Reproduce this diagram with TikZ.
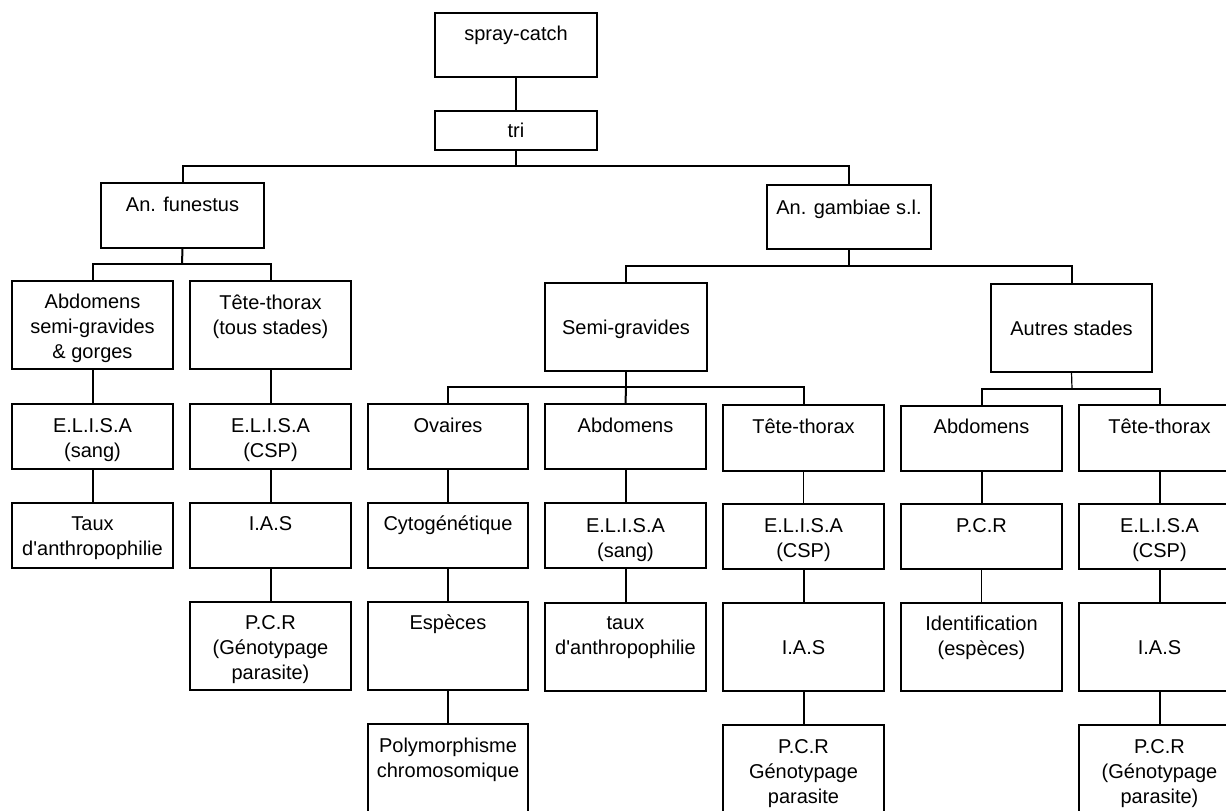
\documentclass[tikz,border=0pt]{standalone}
\usepackage{fontspec}
\setmainfont{Liberation Sans}
\newfontfamily\boxfont{Liberation Sans}
\newcommand\mybox[7]{%
  \node[boxst, minimum width={(#4-#2)*1pt}, minimum height={(#5-#3)*1pt}] (#1) at ({(#2+#4)/2},{(#3+#5)/2}) {};
  \node[txt] (#1t) at ({(#2+#4)/2},#6) {#7};}
\begin{document}
\begin{tikzpicture}[x=1pt,y=-1pt,
  boxst/.style={draw, line width=1.4pt, inner sep=0pt, outer sep=0pt, fill=white},
  txt/.style={inner sep=0pt, align=center, font=\boxfont\fontsize{20}{25}\selectfont, text height=14pt, text depth=0pt},
  conn/.style={line width=2pt},
  thinconn/.style={line width=1.2pt}]
\useasboundingbox (0,0) rectangle (1226,811);
\clip (0,0) rectangle (1226,811);
\fill[white] (0,0) rectangle (1226,811);
% level 0-1 (text y = centre of the last line)
\mybox{spray}{435}{13}{597}{77}{33}{spray-catch}
\mybox{tri}{435}{111}{597}{150}{130}{tri}
\mybox{fun}{101}{183}{264}{248}{204}{An. funestus}
\mybox{gam}{767}{185}{931}{249}{207}{An. gambiae s.l.}
% row A
\mybox{abdF}{12}{281}{173}{369}{351}{Abdomens\\semi-gravides\\\& gorges}
\mybox{ttF}{190}{281}{351}{369}{327}{Tête-thorax\\(tous stades)}
\mybox{semi}{545}{283}{707}{371}{327}{Semi-gravides}
\mybox{autres}{991}{284}{1152}{372}{328}{Autres stades}
% row B
\mybox{elisaFa}{12}{404}{173}{469}{450}{E.L.I.S.A\\(sang)}
\mybox{elisaFb}{190}{404}{351}{469}{450}{E.L.I.S.A\\(CSP)}
\mybox{ova}{368}{404}{528}{469}{425}{Ovaires}
\mybox{abdS}{545}{404}{706}{469}{425}{Abdomens}
\mybox{ttS}{723}{405}{884}{471}{426}{Tête-thorax}
\mybox{abdA}{901}{406}{1062}{471}{426}{Abdomens}
\mybox{ttA}{1079}{405}{1240}{471}{426}{Tête-thorax}
% row C
\mybox{taux}{12}{503}{173}{568}{548}{Taux\\d'anthropophilie}
\mybox{iasF}{190}{503}{351}{568}{523}{I.A.S}
\mybox{cyto}{368}{503}{528}{568}{523}{Cytogénétique}
\mybox{elisaS}{545}{503}{706}{568}{550}{E.L.I.S.A\\(sang)}
\mybox{elisaT}{723}{504}{884}{569}{550}{E.L.I.S.A\\(CSP)}
\mybox{pcrA}{901}{504}{1062}{569}{525}{P.C.R}
\mybox{elisaA}{1079}{504}{1240}{569}{550}{E.L.I.S.A\\(CSP)}
% row D
\mybox{pcrF}{190}{602}{351}{690}{672}{P.C.R\\(Génotypage\\parasite)}
\mybox{esp}{368}{602}{528}{690}{622}{Espèces}
\mybox{tauxS}{545}{603}{706}{691}{647}{taux\\d'anthropophilie}
\mybox{iasS}{723}{603}{884}{691}{647}{I.A.S}
\mybox{ident}{901}{603}{1062}{691}{648}{Identification\\(espèces)}
\mybox{iasA}{1079}{603}{1240}{691}{647}{I.A.S}
% row E
\mybox{poly}{368}{724}{528}{840}{770}{Polymorphisme\\chromosomique}
\mybox{pcrS}{723}{725}{884}{840}{796}{P.C.R\\Génotypage\\parasite}
\mybox{pcrA2}{1079}{725}{1240}{840}{796}{P.C.R\\(Génotypage\\parasite)}
% junctions
\coordinate (j0) at (516,166);
\coordinate (j1) at (182,264);
\coordinate (j2) at (849,266);
\coordinate (j3) at (626,387);
\coordinate (j4) at (1072,389);
% connectors
\draw[conn] (spray.south) -- (tri.north);
\draw[conn] (tri.south) -- (j0);
\draw[conn] (fun.north) |- (j0) -| (gam.north);
\draw[conn] (fun.south) -- (j1);
\draw[conn] (abdF.north) |- (j1) -| (ttF.north);
\draw[conn] (gam.south) -- (j2);
\draw[conn] (semi.north) |- (j2) -| (autres.north);
\draw[conn] (semi.south) -- (j3);
\draw[conn] (ova.north) |- (j3) -| (ttS.north);
\draw[conn] (abdS.north) -- (j3);
\draw[thinconn] (autres.south) -- (j4);
\draw[conn] (abdA.north) |- (j4) -| (ttA.north);
% chains
\draw[conn] (abdF.south) -- (elisaFa.north);
\draw[conn] (elisaFa.south) -- (taux.north);
\draw[conn] (ttF.south) -- (elisaFb.north);
\draw[conn] (elisaFb.south) -- (iasF.north);
\draw[conn] (iasF.south) -- (pcrF.north);
\draw[conn] (ova.south) -- (cyto.north);
\draw[conn] (cyto.south) -- (esp.north);
\draw[thinconn] (esp.south) -- (poly.north);
\draw[conn] (abdS.south) -- (elisaS.north);
\draw[conn] (elisaS.south) -- (tauxS.north);
\draw[thinconn] (ttS.south) -- (elisaT.north);
\draw[conn] (elisaT.south) -- (iasS.north);
\draw[conn] (iasS.south) -- (pcrS.north);
\draw[conn] (abdA.south) -- (pcrA.north);
\draw[thinconn] (pcrA.south) -- (ident.north);
\draw[conn] (ttA.south) -- (elisaA.north);
\draw[conn] (elisaA.south) -- (iasA.north);
\draw[conn] (iasA.south) -- (pcrA2.north);
\end{tikzpicture}
\end{document}
